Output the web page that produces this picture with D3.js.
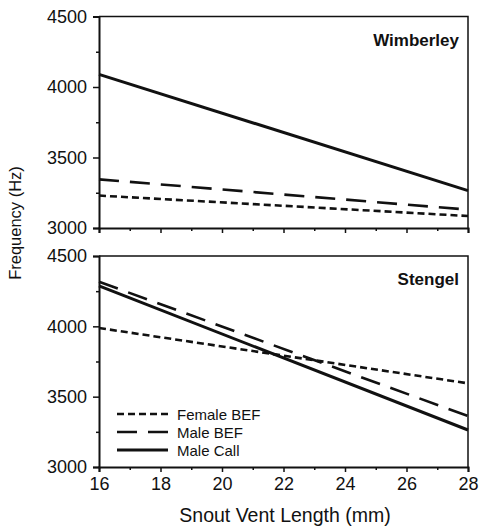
<!DOCTYPE html>
<html>
  <head>
    <style>
      body { margin: 0; background: #fff; }
      text { font-family: "Liberation Sans", Arial, sans-serif; fill: #111; }
      .frame { fill: none; stroke: #111; stroke-width: 1.5; }
      .series { fill: none; stroke: #111; }
    </style>
    <script src="https://d3js.org/d3.v7.min.js"></script>
  </head>
  <body>
    <svg id="chart" width="482" height="531"></svg>

    <script>
      // snout vent length endpoints (mm)
      var svl = [16, 28];
      var seriesNames = ["Female BEF", "Male BEF", "Male Call"];
      var sites = ["Wimberley", "Stengel"];

      // fitted frequency (Hz) at svl endpoints
      var wimberleyFemaleBEF = [3230, 3085];
      var wimberleyMaleBEF = [3345, 3130];
      var wimberleyMaleCall = [4090, 3265];
      var stengelFemaleBEF = [3988, 3595];
      var stengelMaleBEF = [4317, 3362];
      var stengelMaleCall = [4287, 3263];

      var yTicks = [3000, 3500, 4000, 4500];
      var yMinor = [3250, 3750, 4250];
      var xTicks = [16, 18, 20, 22, 24, 26, 28];
      var xMinor = [17, 19, 21, 23, 25, 27];

      var dashes = ["7,4", "20,11", null];
      var widths = [2.6, 2.6, 3];

      var svg = d3.select("#chart");
      var x = d3.scaleLinear().domain([16, 28]).range([99, 468]);

      var panels = [
        { name: sites[0], top: 16.5, bottom: 228, data: [wimberleyFemaleBEF, wimberleyMaleBEF, wimberleyMaleCall] },
        { name: sites[1], top: 256, bottom: 467, data: [stengelFemaleBEF, stengelMaleBEF, stengelMaleCall] }
      ];

      panels.forEach(function(p, pi) {
        var y = d3.scaleLinear().domain([3000, 4500]).range([p.bottom, p.top]);
        var g = svg.append("g");

        // frame top/right
        g.append("path").attr("class", "frame")
          .attr("d", "M" + x(16) + "," + y(4500) + "H" + x(28) + "V" + y(3000));

        // y axis
        g.append("g").attr("transform", "translate(" + x(16) + ",0)")
          .call(d3.axisLeft(y).tickValues(yTicks).tickSize(6).tickPadding(6).tickFormat(d3.format("d")));
        g.append("g").attr("transform", "translate(" + x(16) + ",0)")
          .call(d3.axisLeft(y).tickValues(yMinor).tickSize(3).tickFormat(""))
          .select(".domain").remove();

        // x axis
        g.append("g").attr("transform", "translate(0," + y(3000) + ")")
          .call(d3.axisBottom(x).tickValues(xTicks).tickSize(5).tickPadding(5)
            .tickFormat(pi === 1 ? d3.format("d") : ""));
        g.append("g").attr("transform", "translate(0," + y(3000) + ")")
          .call(d3.axisBottom(x).tickValues(xMinor).tickSize(3).tickFormat(""))
          .select(".domain").remove();

        g.selectAll(".domain").attr("stroke-width", 2).attr("stroke", "#111");
        g.selectAll(".tick line").attr("stroke-width", 1.5).attr("stroke", "#111");
        g.selectAll(".tick text").attr("font-size", 18).attr("font-family", "Liberation Sans, Arial, sans-serif").attr("fill", "#111");

        var line = d3.line().x(function(d, i) { return x(svl[i]); }).y(function(d) { return y(d); });

        p.data.forEach(function(vals, i) {
          g.append("path").attr("class", "series")
            .attr("d", line(vals))
            .attr("stroke-width", widths[i])
            .attr("stroke-dasharray", dashes[i]);
        });

        g.append("text")
          .attr("x", 459).attr("y", p.top + 29)
          .attr("text-anchor", "end")
          .attr("font-size", 17).attr("font-weight", "bold")
          .text(p.name);
      });

      // legend in lower panel
      var leg = svg.append("g");
      seriesNames.forEach(function(name, i) {
        var ly = 414 + i * 18;
        leg.append("line").attr("class", "series")
          .attr("x1", 117).attr("x2", 168).attr("y1", ly).attr("y2", ly)
          .attr("stroke-width", widths[i])
          .attr("stroke-dasharray", dashes[i]);
        leg.append("text").attr("x", 177).attr("y", ly + 5.5)
          .attr("font-size", 15).text(name);
      });

      // axis titles
      svg.append("text")
        .attr("x", 285).attr("y", 522)
        .attr("text-anchor", "middle")
        .attr("font-size", 19.5)
        .text("Snout Vent Length (mm)");

      svg.append("text")
        .attr("transform", "translate(21,223) rotate(-90)")
        .attr("text-anchor", "middle")
        .attr("font-size", 16.5)
        .text("Frequency (Hz)");
    </script>
  </body>
</html>
